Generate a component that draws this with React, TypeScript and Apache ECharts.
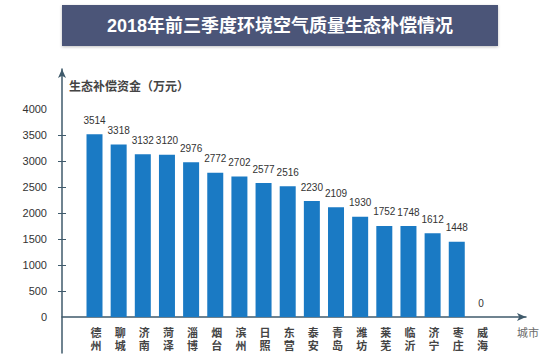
import React, { useEffect, useRef } from "react";
import * as echarts from "echarts";

const titleText = "2018年前三季度环境空气质量生态补偿情况";
const yAxisName = "生态补偿资金（万元）";
const xAxisName = "城市";
const cities = ["德州", "聊城", "济南", "菏泽", "淄博", "烟台", "滨州", "日照", "东营", "泰安", "青岛", "潍坊", "莱芜", "临沂", "济宁", "枣庄", "威海"];
const values = [3514, 3318, 3132, 3120, 2976, 2772, 2702, 2577, 2516, 2230, 2109, 1930, 1752, 1748, 1612, 1448, 0];
const yLabelValues = [0, 500, 1000, 1500, 2000, 2500, 3000, 3500, 4000];
const yTickValues = [500, 1000, 1500, 2000, 2500, 3000, 3500];

const FONT = "Liberation Sans, Arial, Noto Sans CJK SC, sans-serif";

export default function App() {
  const ref = useRef<HTMLDivElement>(null);
  useEffect(() => {
    if (!ref.current) return;
    const chart = echarts.init(ref.current, null, { renderer: "svg" });
    const yMin = -692;
    const yMax = 4769;
    const gridTop = 69;
    const gridBottom = 9;
    const plotH = 362 - gridTop - gridBottom;
    const zeroOffset = (plotH * -yMin) / (yMax - yMin);
    const axisColor = "#3f5a6b";
    chart.setOption({
      animation: false,
      backgroundColor: "#ffffff",
      textStyle: { fontFamily: FONT },
      grid: { left: 62, right: 24, top: gridTop, bottom: gridBottom, outerBoundsMode: "none" },
      graphic: [
        {
          type: "rect",
          shape: { x: 62, y: 5, width: 436, height: 41 },
          style: { fill: "#4b5578", shadowBlur: 3, shadowColor: "rgba(0,0,0,0.25)", shadowOffsetY: 1 },
        },
        {
          type: "text",
          x: 280,
          y: 26,
          style: {
            text: titleText,
            fill: "#ffffff",
            font: `bold 18px ${FONT}`,
            align: "center",
            verticalAlign: "middle",
          },
        },
        {
          type: "text",
          x: 517,
          y: 333,
          style: {
            text: xAxisName,
            fill: "#6a6a6a",
            font: `11px ${FONT}`,
            align: "left",
            verticalAlign: "middle",
          },
        },
      ],
      xAxis: {
        type: "value",
        min: -1.346,
        max: 17.867,
        position: "bottom",
        offset: -zeroOffset,
        splitLine: { show: false },
        axisTick: { show: false },
        axisLine: {
          show: true,
          onZero: false,
          lineStyle: { color: axisColor, width: 1.5 },
          symbol: ["none", "arrow"],
          symbolSize: [6, 9],
        },
        axisLabel: {
          customValues: cities.map((_, i) => i),
          formatter: (v: number) => {
            const c = cities[Math.round(v)] || "";
            return c.split("").join("\n");
          },
          color: "#444",
          fontSize: 11,
          fontWeight: "bold",
          lineHeight: 13,
          margin: 9,
          padding: [0, 0, 0, 3],
        },
      },
      yAxis: [
        {
          type: "value",
          min: yMin,
          max: yMax,
          position: "left",
          splitLine: { show: false },
          axisLine: {
            show: true,
            onZero: false,
            lineStyle: { color: axisColor, width: 1.5 },
            symbol: ["none", "arrow"],
            symbolSize: [6, 9],
          },
          axisTick: { show: true, length: 4, customValues: yTickValues, lineStyle: { color: axisColor } },
          axisLabel: {
            customValues: yLabelValues,
            formatter: (v: number) => String(v),
            color: "#333",
            fontSize: 11,
            margin: 15,
          },
          name: yAxisName,
          nameLocation: "end",
          nameGap: -18,
          nameMoveOverlap: false,
          nameTextStyle: {
            color: "#444",
            fontSize: 12,
            fontWeight: "bold",
            align: "left",
            verticalAlign: "middle",
            padding: [0, 0, 0, 7],
          },
        },
        {
          type: "value",
          min: yMin,
          max: yMax,
          position: "left",
          splitLine: { show: false },
          axisLine: { show: false, onZero: false },
          axisTick: { show: true, inside: true, length: 4, customValues: yTickValues, lineStyle: { color: axisColor } },
          axisLabel: { show: false },
        },
      ],
      series: [
        {
          type: "bar",
          yAxisIndex: 0,
          barWidth: 16,
          data: values.map((v, i) => [i, v]),
          itemStyle: { color: "#1a7ac4" },
          label: {
            show: true,
            position: "top",
            distance: 9,
            color: "#333",
            fontSize: 10,
            formatter: (p: any) => String(p.value[1]),
          },
        },
      ],
    });
    return () => chart.dispose();
  }, []);
  return (
    <div
      ref={ref}
      style={{ position: "fixed", left: 0, top: 0, width: 550, height: 362, background: "#fff" }}
    />
  );
}
